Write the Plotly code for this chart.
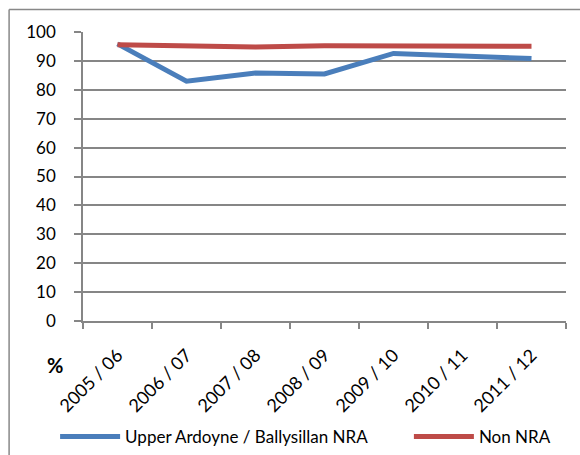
import plotly.graph_objects as go

categories = ["2005 / 06", "2006 / 07", "2007 / 08", "2008 / 09", "2009 / 10", "2010 / 11", "2011 / 12"]
nra_values = [95.9, 83.0, 85.8, 85.5, 92.6, 91.8, 90.8]
non_nra_values = [95.6, 95.4, 94.8, 95.2, 95.3, 95.2, 95.1]
y_ticks = [0, 10, 20, 30, 40, 50, 60, 70, 80, 90, 100]

FONT = "Lato"
GRID = "#868686"

fig = go.Figure()
fig.add_trace(go.Scatter(x=categories, y=nra_values, mode="lines",
                         name="Upper Ardoyne / Ballysillan NRA", legend="legend",
                         line=dict(color="#4A7EBB", width=5)))
fig.add_trace(go.Scatter(x=categories, y=non_nra_values, mode="lines",
                         name="Non NRA", legend="legend2",
                         line=dict(color="#BE4B48", width=5)))

legend_common = dict(orientation="h", xanchor="left", xref="container",
                     y=0.0396, yref="container", yanchor="middle",
                     font=dict(size=17, family=FONT), itemwidth=60,
                     bgcolor="rgba(0,0,0,0)")

fig.update_layout(
    width=580, height=455,
    margin=dict(l=83, r=14, t=32, b=134, autoexpand=False),
    paper_bgcolor="white", plot_bgcolor="white",
    font=dict(family=FONT, color="black", size=17),
    showlegend=True,
    legend=dict(x=0.095, **legend_common),
    legend2=dict(x=0.705, **legend_common),
    xaxis=dict(type="category", tickangle=-45, showgrid=False, automargin=False,
               showline=True, linecolor=GRID, linewidth=1.5,
               ticks="outside", tickson="boundaries", ticklen=6, tickcolor=GRID, tickwidth=1.5,
               ticklabelstandoff=15,
               tickfont=dict(size=18, family=FONT), range=[-0.5, 6.5]),
    yaxis=dict(range=[0, 100], tickvals=y_ticks, showgrid=True, gridcolor=GRID, gridwidth=1.5,
               showline=True, linecolor=GRID, linewidth=1.5, zeroline=False, automargin=False,
               ticks="outside", ticklen=7, tickcolor=GRID, tickwidth=1.5,
               ticklabelstandoff=15,
               tickfont=dict(size=17, family=FONT)),
)

# outer chart border (top and left edges; the rest lies outside the window)
fig.add_shape(type="line", xref="paper", yref="paper", x0=-0.153, x1=1.1, y0=1.078, y1=1.078,
              line=dict(color="#888888", width=1.5))
fig.add_shape(type="line", xref="paper", yref="paper", x0=-0.153, x1=-0.153, y0=-0.6, y1=1.078,
              line=dict(color="#888888", width=1.5))

fig.add_annotation(text="<b>%</b>", xref="paper", yref="paper", x=-0.058, y=-0.103,
                   xanchor="center", yanchor="top", showarrow=False,
                   font=dict(size=20, family=FONT, color="black"))

fig.write_html("out.html", config={"displayModeBar": False},
               post_script="document.body.style.margin='0';")
